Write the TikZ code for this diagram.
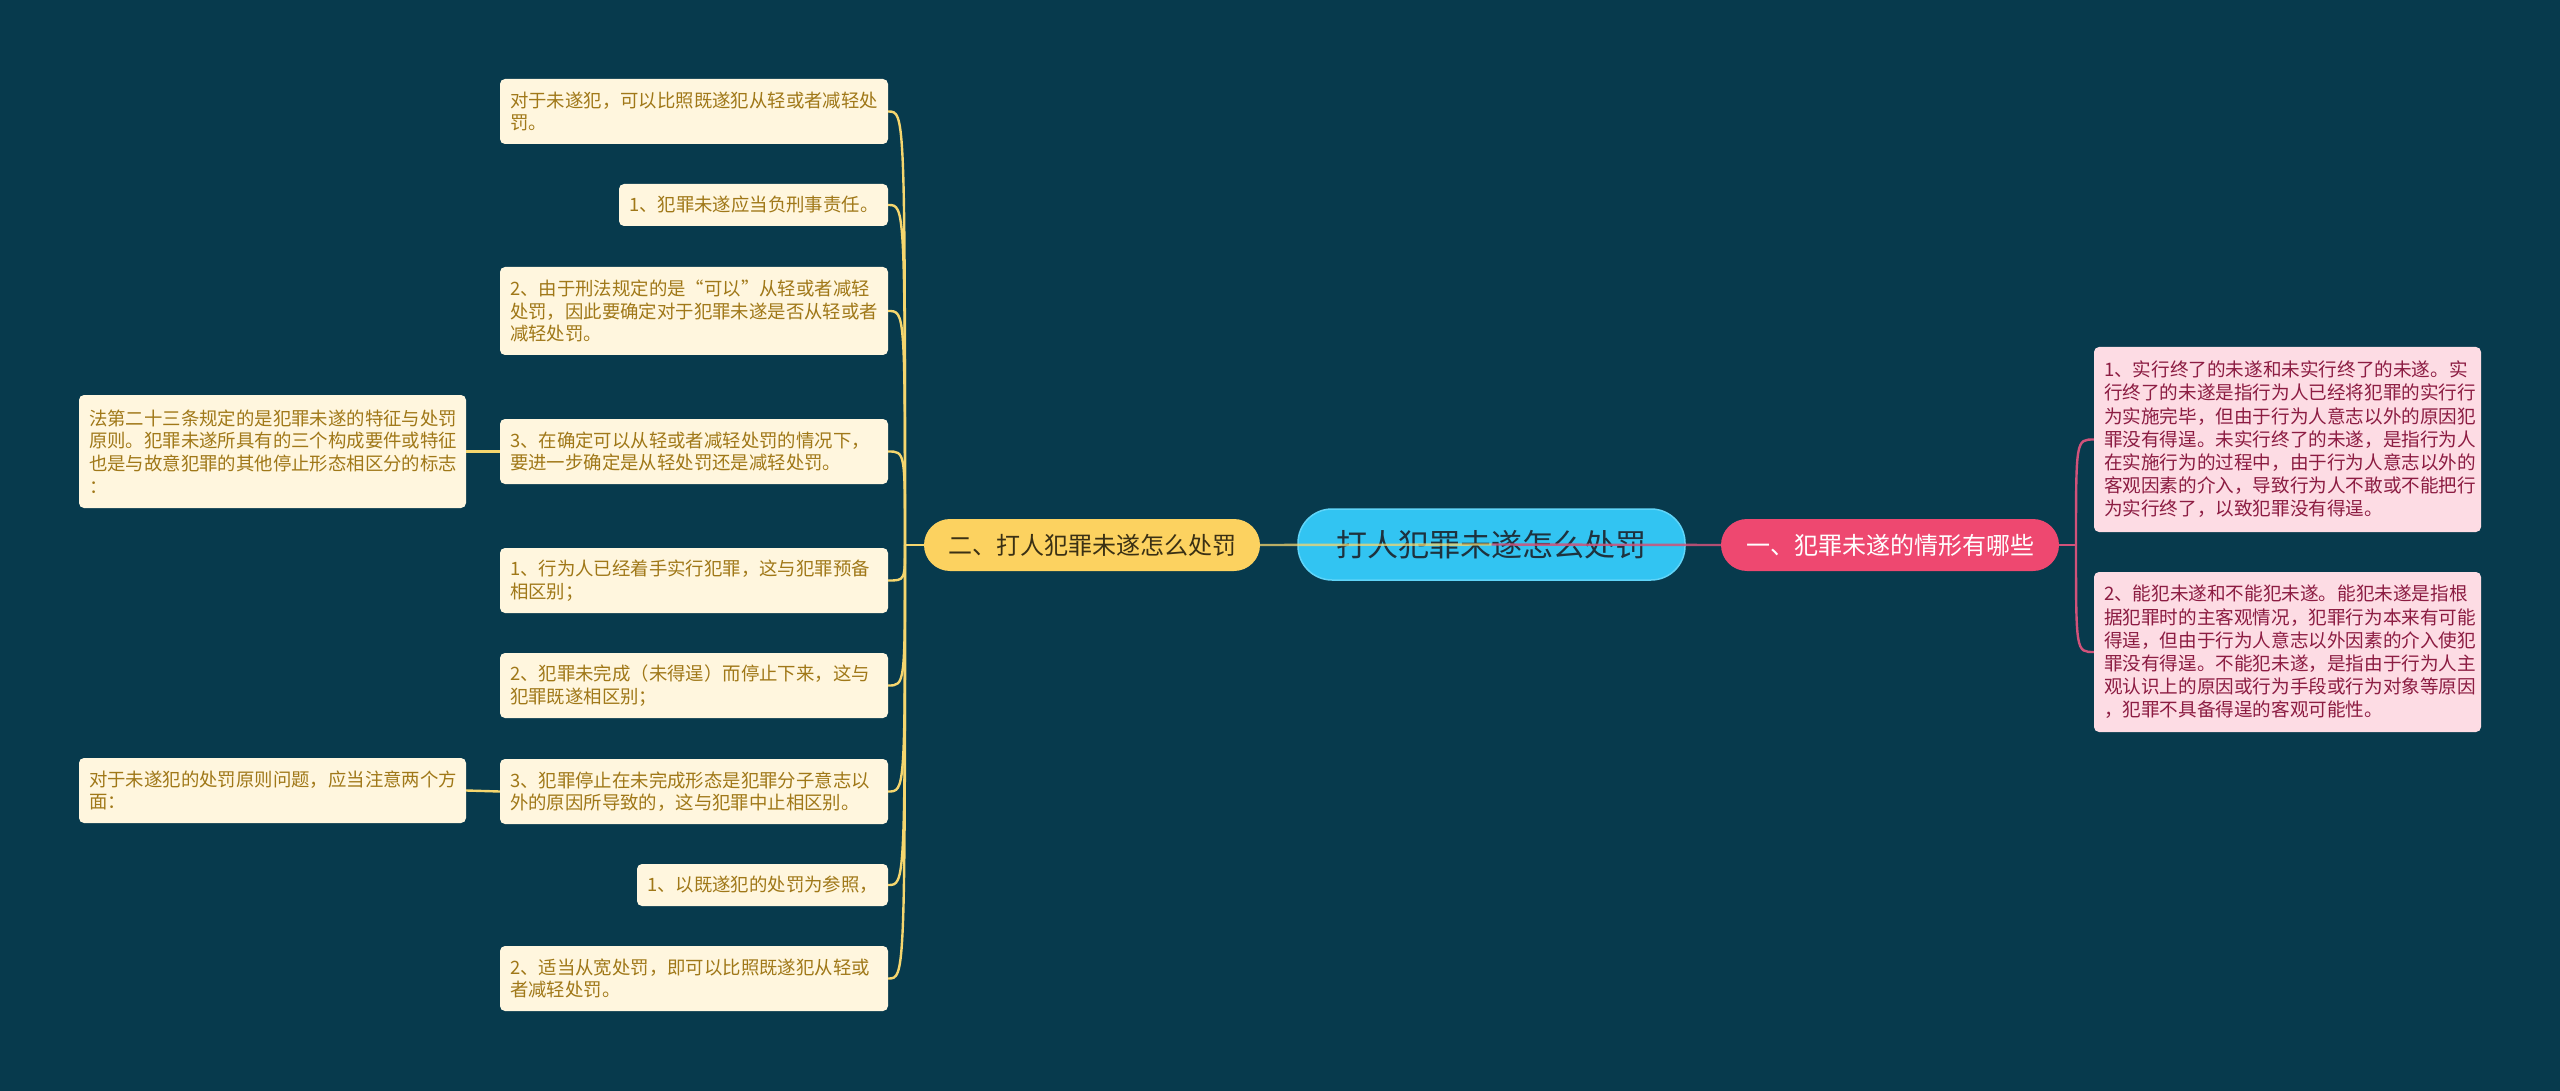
\documentclass[tikz,border=0pt]{standalone}
\usepackage{fontspec}
\newfontfamily\cjk{Noto Sans CJK SC}
\definecolor{bg}{RGB}{7,58,77}
\definecolor{rootfill}{RGB}{50,196,242}
\definecolor{rootdraw}{RGB}{95,212,248}
\definecolor{roottext}{RGB}{30,50,62}
\definecolor{yfill}{RGB}{252,210,96}
\definecolor{ytext}{RGB}{58,48,20}
\definecolor{pfill}{RGB}{238,72,112}
\definecolor{lfill}{RGB}{255,246,222}
\definecolor{ltext}{RGB}{160,120,24}
\definecolor{rfill}{RGB}{253,220,228}
\definecolor{rtext}{RGB}{140,28,66}
\definecolor{yline}{RGB}{245,214,110}
\definecolor{pline}{RGB}{208,82,122}
\tikzset{
  leafbox/.style={draw=none, rounded corners=5pt, inner xsep=10pt, inner ysep=0pt,
    align=left, font=\cjk\fontsize{18.4}{22.6}\selectfont},
  lleaf/.style={leafbox, fill=lfill, text=ltext},
  rleaf/.style={leafbox, fill=rfill, text=rtext, font=\cjk\fontsize{18.6}{23.2}\selectfont},
  ycon/.style={draw=yline, line width=2.4pt},
  pcon/.style={draw=pline, line width=2.4pt},
}
\begin{document}
\begin{tikzpicture}[x=1pt,y=-1pt]
\useasboundingbox[fill=bg] (0,0) rectangle (2560,1091);
% root and branches
\node[fill=rootfill, draw=rootdraw, line width=1.5pt, rounded corners=34pt, minimum width=387pt, minimum height=71pt, inner sep=0pt, text=roottext, font=\cjk\fontsize{31}{36}\selectfont] (root) at (1491.5,544.5) {打人犯罪未遂怎么处罚};
\node[fill=yfill, rounded corners=26pt, minimum width=336pt, minimum height=52pt, inner sep=0pt, text=ytext, font=\cjk\fontsize{24}{28}\selectfont] (b2) at (1092,545) {二、打人犯罪未遂怎么处罚};
\node[fill=pfill, rounded corners=26pt, minimum width=338pt, minimum height=52pt, inner sep=0pt, text=white, font=\cjk\fontsize{24}{28}\selectfont] (b1) at (1890,545) {一、犯罪未遂的情形有哪些};
% left leaves
\node[lleaf, text width=368pt, minimum height=65pt] (l1) at (694,111.5) {对于未遂犯，可以比照既遂犯从轻或者减轻处\\罚。};
\node[lleaf, text width=249pt, minimum height=42pt] (l2) at (753.5,205) {1、犯罪未遂应当负刑事责任。};
\node[lleaf, text width=368pt, minimum height=88pt] (l3) at (694,311) {2、由于刑法规定的是“可以”从轻或者减轻\\处罚，因此要确定对于犯罪未遂是否从轻或者\\减轻处罚。};
\node[lleaf, text width=368pt, minimum height=65pt] (l4) at (694,451.5) {3、在确定可以从轻或者减轻处罚的情况下，\\要进一步确定是从轻处罚还是减轻处罚。};
\node[lleaf, text width=368pt, minimum height=65pt] (l5) at (694,580.5) {1、行为人已经着手实行犯罪，这与犯罪预备\\相区别；};
\node[lleaf, text width=368pt, minimum height=65pt] (l6) at (694,685.5) {2、犯罪未完成（未得逞）而停止下来，这与\\犯罪既遂相区别；};
\node[lleaf, text width=368pt, minimum height=65pt] (l7) at (694,791.5) {3、犯罪停止在未完成形态是犯罪分子意志以\\外的原因所导致的，这与犯罪中止相区别。};
\node[lleaf, text width=231pt, minimum height=42pt] (l8) at (762.5,885) {1、以既遂犯的处罚为参照，};
\node[lleaf, text width=368pt, minimum height=65pt] (l9) at (694,978.5) {2、适当从宽处罚，即可以比照既遂犯从轻或\\者减轻处罚。};
\node[lleaf, text width=367pt, minimum height=113pt] (f1) at (272.5,451.5) {法第二十三条规定的是犯罪未遂的特征与处罚\\原则。犯罪未遂所具有的三个构成要件或特征\\也是与故意犯罪的其他停止形态相区分的标志\\：};
\node[lleaf, text width=367pt, minimum height=65pt] (f2) at (272.5,790.5) {对于未遂犯的处罚原则问题，应当注意两个方\\面：};
% right leaves
\node[rleaf, text width=367pt, minimum height=185pt] (r1) at (2287.5,439.5) {1、实行终了的未遂和未实行终了的未遂。实\\行终了的未遂是指行为人已经将犯罪的实行行\\为实施完毕，但由于行为人意志以外的原因犯\\罪没有得逞。未实行终了的未遂，是指行为人\\在实施行为的过程中，由于行为人意志以外的\\客观因素的介入，导致行为人不敢或不能把行\\为实行终了，以致犯罪没有得逞。};
\node[rleaf, text width=367pt, minimum height=160pt] (r2) at (2287.5,652) {2、能犯未遂和不能犯未遂。能犯未遂是指根\\据犯罪时的主客观情况，犯罪行为本来有可能\\得逞，但由于行为人意志以外因素的介入使犯\\罪没有得逞。不能犯未遂，是指由于行为人主\\观认识上的原因或行为手段或行为对象等原因\\，犯罪不具备得逞的客观可能性。};
% connectors root-branches (drawn over root)
\draw[ycon, draw opacity=0.75] (b2.east) -- (root.center);
\draw[pcon, draw opacity=0.85] (root.center) -- (b1.west);
% left hub
\coordinate (lhub) at (905,545);
\draw[ycon] (b2.west) -- (lhub);
\foreach \n in {l1,l2,l3,l4,l5,l6,l7,l8,l9}{
  \draw[ycon] (lhub) .. controls (lhub |- \n.east) and (lhub |- \n.east) .. (\n.east);
}
\draw[ycon] (l4.west) -- (f1.east);
\draw[ycon] (l7.west) -- (f2.east);
% right hub
\coordinate (rhub) at (2076,545);
\draw[pcon] (b1.east) -- (rhub);
\foreach \n in {r1,r2}{
  \draw[pcon] (rhub) .. controls (rhub |- \n.west) and (rhub |- \n.west) .. (\n.west);
}
\end{tikzpicture}
\end{document}
